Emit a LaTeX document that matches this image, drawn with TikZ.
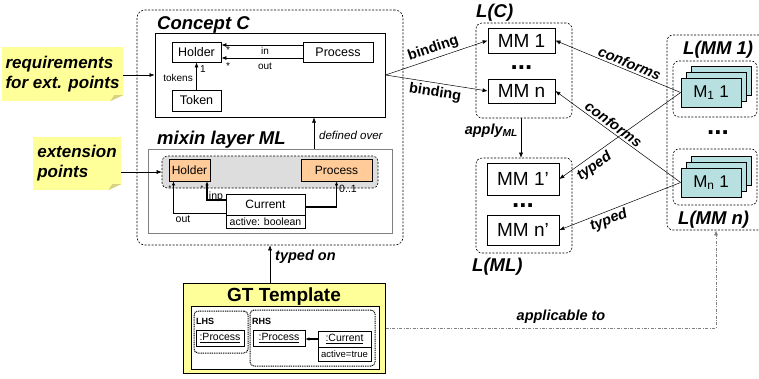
\documentclass[tikz,border=0pt]{standalone}
\usepackage{fontspec}
\setmainfont{Liberation Sans}
\usetikzlibrary{arrows.meta,calc}
\definecolor{noteY}{RGB}{255,255,153}
\definecolor{foldY}{RGB}{214,210,130}
\definecolor{orng}{RGB}{255,204,153}
\definecolor{rgn}{RGB}{221,221,221}
\definecolor{cyn}{RGB}{185,224,224}
\newcommand{\fsz}[1]{\fontsize{#1}{#1}\selectfont}
\begin{document}
\begin{tikzpicture}[x=1pt,y=-1pt,
  box/.style={draw, fill=white, inner sep=0pt, line width=0.8pt},
  cls/.style={box, font=\fsz{12.5}},
  mmbox/.style={box, font=\fsz{19}},
  dbox/.style={draw, dash pattern=on 2pt off 1.5pt, rounded corners=6pt, line width=0.6pt, inner sep=0pt},
  dotbox/.style={draw, dash pattern=on 1pt off 0.8pt, rounded corners=4pt, line width=1pt, inner sep=0pt},
  arr/.style={-{Latex[length=5pt,width=4pt]}, line width=0.5pt},
  rarr/.style={{Latex[length=5pt,width=4pt]}-, line width=0.5pt},
  tarr/.style={-{Latex[length=4pt,width=3.5pt]}, line width=1.5pt},
  lbl/.style={font=\fsz{14.5}\bfseries\itshape, inner sep=2pt},
  head/.style={font=\fsz{18.5}\bfseries\itshape, inner sep=0pt, anchor=west},
  small/.style={font=\fsz{10}, inner sep=0pt},
  note/.style={fill=noteY, inner sep=0pt, align=left, font=\fontsize{17}{20}\selectfont\bfseries\itshape},
  dots/.style={font=\fsz{26}\bfseries, inner sep=0pt},
  cyanbox/.style={draw, fill=cyn, line width=0.8pt, inner sep=0pt, minimum width=60, minimum height=29, font=\fsz{17}}
]
\useasboundingbox (0,0) rectangle (759,378);
\clip (0,0) rectangle (759,378);

% ---------------- Concept C + mixin layer ----------------
\node[dbox, rounded corners=8pt, minimum width=266, minimum height=235] (outer) at (270,127.5) {};
\node[head] (hC) at (157,25) {Concept C};
\node[box, line width=1pt, minimum width=230, minimum height=84] (concept) at (270,75) {};
\node[cls, minimum width=49, minimum height=20] (holderC) at (196.5,52) {Holder};
\node[cls, minimum width=70, minimum height=20] (processC) at (338,52) {Process};
\node[cls, minimum width=49, minimum height=21] (tokenC) at (196.5,100.5) {Token};
\draw[arr, line width=0.8pt] ($(processC.west)+(0,-7)$) -- ($(holderC.east)+(0,-7)$);
\draw[arr, line width=0.8pt] ($(processC.west)+(0,6)$) -- ($(holderC.east)+(0,6)$);
\node[small] (lin) at (265,51) {in};
\node[small] (lout) at (265,66) {out};
\node[small] (s1) at (228,50) {*};
\node[small] (s2) at (228,66) {*};
\draw[arr, line width=0.8pt] (tokenC.north) -- (holderC.south);
\node[small, anchor=east] (ltok) at (193,78) {tokens};
\node[small] (l1) at (203,69) {1};

\node[head] (hML) at (157,140) {mixin layer ML};
\node[draw=gray, line width=1pt, inner sep=0pt, minimum width=244, minimum height=84] (mixin) at (270,191) {};
\node[draw, fill=rgn, dash pattern=on 2pt off 1.5pt, rounded corners=5pt, line width=0.6pt, minimum width=216, minimum height=32, inner sep=0pt] (region) at (270,172) {};
\node[cls, fill=orng, minimum width=41, minimum height=22, font=\fsz{12}] (holderML) at (189.5,170) {Holder};
\node[cls, fill=orng, minimum width=71, minimum height=22, font=\fsz{12}] (processML) at (336.5,170) {Process};
\node[box, minimum width=79, minimum height=21, font=\fsz{12}] (cur) at (265.5,204.5) {Current};
\node[box, minimum width=79, minimum height=13, font=\fsz{10.5}] (curA) at (265.5,221.5) {active: boolean};
\draw[tarr] ($(cur.south west)+(0,-2)$) -| ($(holderML.south)+(-16,0)$);
\draw[tarr] ($(cur.west)+(0,-4.5)$) -| ($(holderML.south)+(17.5,0)$);
\draw[tarr] ($(cur.east)+(0,2.5)$) -| (processML.south);
\node[small, font=\fsz{10.5}] (lo) at (183,219) {out};
\node[small, font=\fsz{10.5}] (li) at (216,197) {inp};
\node[small, font=\fsz{10.5}] (l01) at (348,189) {0..1};
\node[small, font=\fsz{7}] (s3) at (170,188) {*};
\node[small, font=\fsz{7}] (s4) at (202,188) {*};

\draw[arr] ($(mixin.north)+(44,0)$) -- ($(concept.south)+(44,0)$);
\node[anchor=west, inner sep=0pt, font=\fsz{11.5}\itshape] (ldef) at (319,135) {defined over};

% ---------------- notes ----------------
\node[note, minimum width=121, minimum height=54] (req) at (62.5,74) {requirements\\for ext. points};
\fill[white] (req.south east) -- ++(-13,0) -- ++(13,-6) -- cycle;
\fill[foldY] ($(req.south east)+(-13,0)$) -- ++(4,-6) -- ++(9,0) -- cycle;
\node[note, minimum width=88, minimum height=53] (ext) at (77,163.5) {extension\\points};
\fill[white] (ext.south east) -- ++(-13,0) -- ++(13,-6) -- cycle;
\fill[foldY] ($(ext.south east)+(-13,0)$) -- ++(4,-6) -- ++(9,0) -- cycle;
\draw[arr] (req.east |- concept.west) -- (concept.west);
\draw[arr] (ext.east |- region.west) -- (region.west);

% ---------------- L(C) and L(ML) ----------------
\node[dbox, minimum width=96, minimum height=95] (LC) at (524,70.5) {};
\node[head] (hLC) at (476,13) {L(C)};
\node[mmbox, minimum width=67, minimum height=25] (MM1) at (521.5,40.5) {MM 1};
\node[dots] (d1) at (521.5,68) {...};
\node[mmbox, minimum width=67, minimum height=24] (MMn) at (521.5,91) {MM n};

\node[dbox, minimum width=96, minimum height=95] (LML) at (524,205.5) {};
\node[head] (hLML) at (472,267) {L(ML)};
\node[mmbox, minimum width=72, minimum height=32] (MM1p) at (523,179) {MM 1’};
\node[dots] (d2) at (523,206) {...};
\node[mmbox, minimum width=72, minimum height=30] (MMnp) at (523,230) {MM n’};

\draw[arr] ($(LC.south)+(-3,0)$) -- ($(LML.north)+(-3,0)$);
\node[lbl, anchor=east, inner sep=0pt] (lapp) at (518,131) {apply\textsubscript{ML}};

% ---------------- L(MM) ----------------
\node[dbox, minimum width=98, minimum height=195] (RO) at (716,132.5) {};
\node[head] (hM1) at (683,50) {L(MM 1)};
\node[dbox, minimum width=84, minimum height=56] (in1) at (715,89) {};
\node[cyanbox] (m1c) at (721,80.5) {};
\node[cyanbox] (m1b) at (716,86.5) {};
\node[cyanbox] (M1) at (711,92.5) {M\textsubscript{1} 1};
\node[dots] (d3) at (718,133) {...};
\node[dbox, minimum width=84, minimum height=56] (in2) at (715,177) {};
\node[cyanbox] (mnc) at (721,170.5) {};
\node[cyanbox] (mnb) at (716,176.5) {};
\node[cyanbox] (Mn) at (711,182.5) {M\textsubscript{n} 1};
\node[head] (hMn) at (678,220) {L(MM n)};

% ---------------- connectors ----------------
\draw[arr] (concept.east) -- node[sloped, above, font=\fsz{14.5}\bfseries, inner sep=3pt] {binding} (MM1.west);
\draw[arr] (concept.east) -- node[sloped, below, font=\fsz{14.5}\bfseries, inner sep=3pt] {binding} (MMn.west);
\draw[rarr] (MM1.east) -- node[sloped, above, pos=0.57, lbl] {conforms} (M1.west);
\draw[rarr] (MMn.east) -- node[sloped, above, pos=0.43, lbl] {conforms} (Mn.west);
\draw[rarr] (MM1p.east) -- node[sloped, below, pos=0.24, lbl, inner sep=3pt] {typed} (M1.west);
\draw[rarr] (MMnp.east) -- node[sloped, below, pos=0.38, lbl] {typed} (Mn.west);

% ---------------- GT Template ----------------
\node[draw, fill=noteY, line width=1pt, minimum width=202, minimum height=90, inner sep=0pt] (gt) at (284,328) {};
\node[font=\fsz{19}\bfseries, inner sep=0pt] (gtT) at (284,297) {GT Template};
\node[box, minimum width=188, minimum height=63] (gtin) at (285,337.5) {};
\node[dotbox, minimum width=54, minimum height=42] (lhs) at (221,332) {};
\node[anchor=west, inner sep=0pt, font=\fsz{9}\bfseries] (tL) at (196,321) {LHS};
\node[box, minimum width=48, minimum height=16, font=\fsz{10.5}] (lp) at (220,338) {\underline{:Process}};
\node[dotbox, minimum width=125, minimum height=56] (rhs) at (312.5,338) {};
\node[anchor=west, inner sep=0pt, font=\fsz{9}\bfseries] (tR) at (252,321) {RHS};
\node[box, minimum width=52, minimum height=16, font=\fsz{10.5}] (rp) at (279,338) {\underline{:Process}};
\node[box, minimum width=53, minimum height=16, font=\fsz{10.5}] (cg) at (344.5,339) {\underline{:Current}};
\node[box, minimum width=53, minimum height=14, font=\fsz{9.5}] (cgA) at (344.5,354) {active=true};
\draw[tarr, line width=1.2pt] (cg.west) -- (cg.west -| rp.east);

\draw[arr] (outer.south |- gt.north) -- (outer.south);
\node[lbl, anchor=west, inner sep=0pt] (ltyp) at (275,257) {typed on};

\draw[arr, gray, line width=0.6pt, dash pattern=on 3pt off 1.5pt on 0.8pt off 1.5pt] (gt.east) -| (RO.south);
\node[lbl, inner sep=0pt] (lappl) at (561,317) {applicable to};
\end{tikzpicture}
\end{document}
